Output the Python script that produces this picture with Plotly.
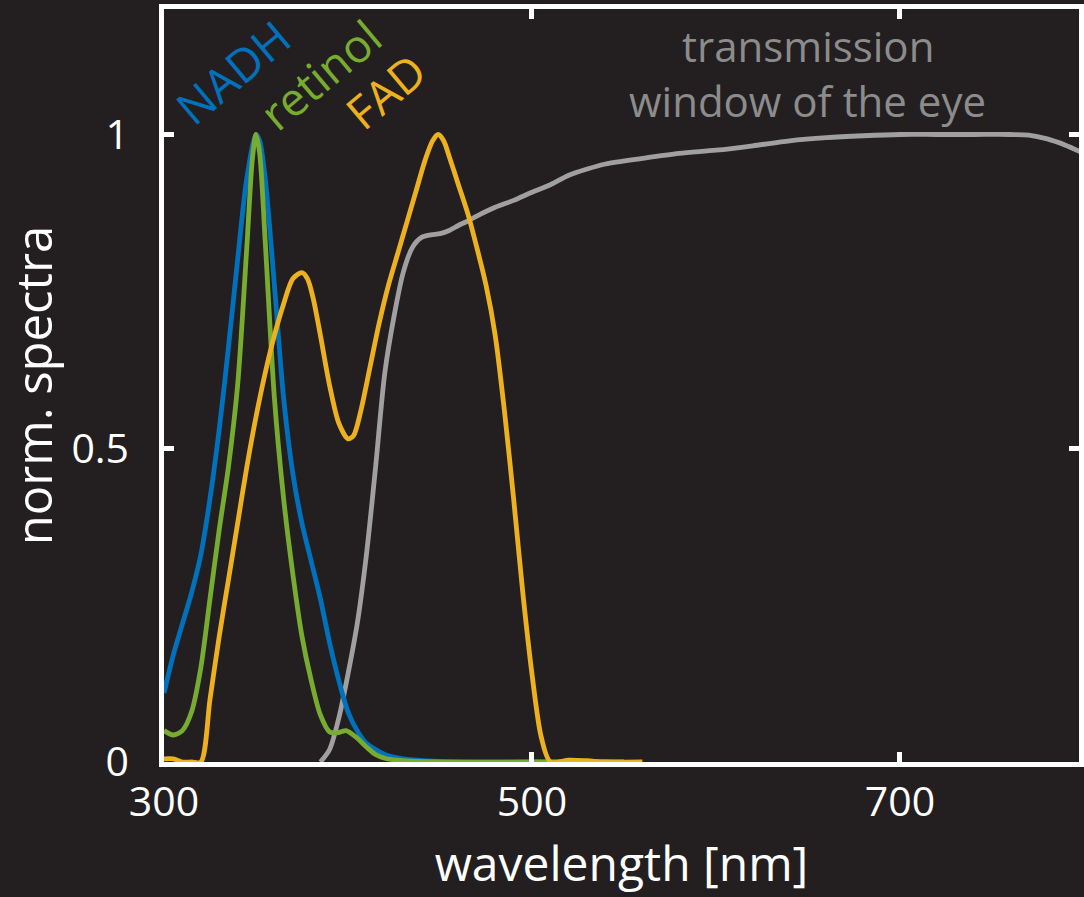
import plotly.graph_objects as go

# ---- data ----
nadh_wl = [300, 305, 310, 315, 320, 325, 330, 335, 340, 345, 350, 352, 355, 360, 365, 370, 375, 380, 385, 390, 395, 400, 405, 410, 420, 430, 450, 500, 550]
nadh_v = [0.11, 0.17, 0.22, 0.27, 0.33, 0.42, 0.53, 0.66, 0.8, 0.93, 1.0, 0.99, 0.93, 0.76, 0.58, 0.46, 0.38, 0.32, 0.26, 0.19, 0.13, 0.08, 0.05, 0.03, 0.012, 0.005, 0.001, 0.0, 0.0]

retinol_wl = [300, 305, 310, 315, 320, 325, 330, 335, 340, 345, 348, 350, 352, 355, 360, 365, 370, 375, 380, 385, 390, 395, 399, 405, 410, 415, 420, 430, 450, 500, 550]
retinol_v = [0.05, 0.043, 0.05, 0.08, 0.15, 0.26, 0.37, 0.47, 0.6, 0.82, 0.96, 1.0, 0.97, 0.83, 0.58, 0.42, 0.3, 0.2, 0.13, 0.075, 0.048, 0.047, 0.05, 0.038, 0.024, 0.012, 0.006, 0.002, 0.0, 0.0, 0.0]

fad_wl = [300, 305, 310, 315, 320, 325, 330, 335, 340, 345, 350, 355, 360, 365, 370, 375, 378, 381, 385, 390, 395, 400, 403, 407, 412, 417, 422, 427, 432, 437, 442, 446, 449, 452, 455, 460, 465, 470, 475, 480, 485, 490, 495, 500, 505, 510, 520, 530, 540, 560]
fad_v = [0.005, 0.005, 0.0, 0.0, 0.0, 0.1, 0.2, 0.29, 0.38, 0.47, 0.55, 0.62, 0.68, 0.73, 0.77, 0.78, 0.77, 0.74, 0.68, 0.6, 0.54, 0.515, 0.52, 0.56, 0.63, 0.7, 0.76, 0.81, 0.86, 0.91, 0.96, 0.99, 1.0, 0.99, 0.965, 0.92, 0.875, 0.82, 0.76, 0.68, 0.56, 0.42, 0.27, 0.14, 0.04, 0.0, 0.003, 0.002, 0.0, 0.0]

eye_wl = [385, 390, 395, 400, 405, 410, 415, 420, 425, 430, 435, 440, 445, 450, 455, 460, 465, 470, 480, 490, 500, 510, 520, 530, 540, 560, 580, 600, 620, 640, 660, 680, 700, 720, 740, 760, 770, 780, 790, 800]
eye_v = [0.0, 0.02, 0.07, 0.14, 0.22, 0.33, 0.47, 0.62, 0.71, 0.78, 0.82, 0.836, 0.84, 0.842, 0.847, 0.855, 0.862, 0.87, 0.884, 0.895, 0.908, 0.92, 0.935, 0.945, 0.953, 0.962, 0.97, 0.975, 0.982, 0.99, 0.995, 0.998, 1.0, 1.0, 1.0, 1.0, 0.999, 0.993, 0.983, 0.97]

x_ticks = [300, 500, 700]
y_ticks = [0, 0.5, 1]
y_ticktext = ["0", "0.5", "1"]

BG = "#231f20"
C_NADH = "#0072bd"
C_RET = "#77ac30"
C_FAD = "#edb120"
C_EYE = "#a0a0a0"
C_EYE_TXT = "#8c8c8c"
FONT = "Open Sans"

fig = go.Figure()
for wl, v, c in [(eye_wl, eye_v, C_EYE), (nadh_wl, nadh_v, C_NADH), (retinol_wl, retinol_v, C_RET), (fad_wl, fad_v, C_FAD)]:
    fig.add_trace(go.Scatter(x=wl, y=v, mode="lines", line=dict(color=c, width=4.8, shape="spline", smoothing=0.8),
                             showlegend=False, hoverinfo="skip"))

fig.update_layout(
    width=1084, height=897,
    paper_bgcolor=BG, plot_bgcolor=BG,
    margin=dict(l=164, r=0, t=9, b=135),
    font=dict(family=FONT, color="white"),
    xaxis=dict(range=[300, 797.3], tickvals=x_ticks, ticks="inside", ticklen=10, tickwidth=4.5,
               tickcolor="white", showline=True, linecolor="white", linewidth=4.5, mirror="ticks",
               showgrid=False, zeroline=False, tickfont=dict(size=41, color="white"),
               title=dict(text="wavelength [nm]", font=dict(size=48, color="white"), standoff=22)),
    yaxis=dict(range=[0, 1.2], tickvals=y_ticks, ticktext=y_ticktext, ticks="inside", ticklen=10, tickwidth=4.5,
               tickcolor="white", showline=True, linecolor="white", linewidth=4.5, mirror="ticks",
               showgrid=False, zeroline=False, tickfont=dict(size=41, color="white"), ticklabelstandoff=22,
               title=dict(text="norm. spectra", font=dict(size=49, color="white"), standoff=14)),
)

ann = [
    ("NADH", 337, 1.1, C_NADH),
    ("retinol", 385, 1.096, C_RET),
    ("FAD", 420, 1.07, C_FAD),
]
for t, x, y, c in ann:
    fig.add_annotation(x=x, y=y, text=t, showarrow=False, textangle=-40,
                       font=dict(size=46, color=c, family=FONT), xanchor="center", yanchor="middle")

fig.add_annotation(x=650, y=1.142, text="transmission", showarrow=False,
                   font=dict(size=42, color=C_EYE_TXT, family=FONT), xanchor="center", yanchor="middle")
fig.add_annotation(x=650, y=1.054, text="window of the eye", showarrow=False,
                   font=dict(size=42, color=C_EYE_TXT, family=FONT), xanchor="center", yanchor="middle")

fig.write_html("out.html")
